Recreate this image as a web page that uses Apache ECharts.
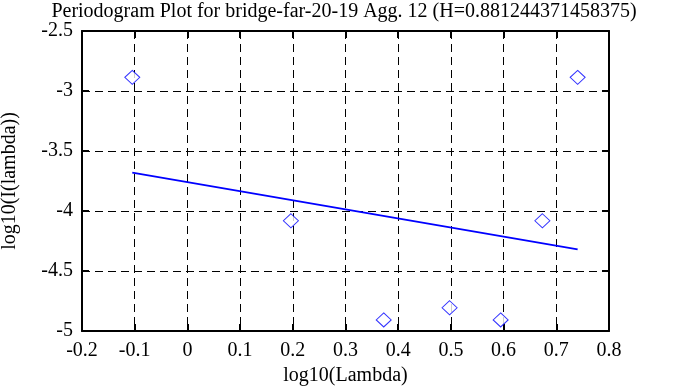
<!DOCTYPE html>
<html><head><meta charset="utf-8">
<script src="https://cdn.jsdelivr.net/npm/echarts@6/dist/echarts.min.js"></script>
<style>html,body{margin:0;padding:0;background:#fff}#c{width:688px;height:387px}</style>
</head><body><div id="c"></div>
<script>
const titleText = 'Periodogram Plot for bridge-far-20-19 Agg. 12 (H=0.881244371458375)';
const xName = 'log10(Lambda)';
const yName = 'log10(I(lambda))';
const logLambda = [-0.1046, 0.1964, 0.3725, 0.4975, 0.5944, 0.6736, 0.7405];
const logI = [-2.886, -4.081, -4.908, -4.806, -4.908, -4.081, -2.886];
const fitX = [-0.1046, 0.7405];
const fitY = [-3.681, -4.319];

const font = 'Liberation Serif, Times New Roman, serif';
const chart = echarts.init(document.getElementById('c'));
const axisCommon = {
  axisLine: {show: true, onZero: false, lineStyle: {color: '#000', width: 2}},
  axisTick: {show: true, inside: true, length: 7, lineStyle: {color: '#000', width: 2}},
};
chart.setOption({
  animation: false,
  title: {text: titleText, left: 'center', top: -3,
    textStyle: {fontFamily: font, fontWeight: 'normal', fontSize: 20, color: '#000'}},
  grid: {left: 82, right: 79, top: 31, bottom: 56, containLabel: false, outerBoundsMode: 'none'},
  xAxis: [
    Object.assign({type: 'value', min: -0.2, max: 0.8, interval: 0.1, position: 'bottom',
      name: xName, nameLocation: 'middle', nameGap: 33,
      nameTextStyle: {fontFamily: font, fontSize: 20, color: '#000'},
      axisLabel: {fontFamily: font, fontSize: 20, color: '#000', margin: 10},
      splitLine: {show: true, lineStyle: {color: '#000', type: [8, 5], width: 1}}}, axisCommon),
    Object.assign({type: 'value', min: -0.2, max: 0.8, interval: 0.1, position: 'top',
      axisLabel: {show: false}, splitLine: {show: false}}, axisCommon)
  ],
  yAxis: [
    Object.assign({type: 'value', min: -5, max: -2.5, interval: 0.5, position: 'left',
      name: yName, nameLocation: 'middle', nameGap: 62, nameRotate: 90,
      nameTextStyle: {fontFamily: font, fontSize: 20, color: '#000'},
      axisLabel: {fontFamily: font, fontSize: 20, color: '#000', margin: 9, padding: [6, 0, 0, 0]},
      splitLine: {show: true, lineStyle: {color: '#000', type: [8, 5], width: 1}}}, axisCommon),
    Object.assign({type: 'value', min: -5, max: -2.5, interval: 0.5, position: 'right',
      axisLabel: {show: false}, splitLine: {show: false}}, axisCommon)
  ],
  series: [
    {type: 'scatter', data: logLambda.map((x, i) => [x, logI[i]]),
      symbol: 'diamond', symbolSize: [15, 14],
      itemStyle: {color: '#fff', borderColor: '#0000ff', borderWidth: 1}},
    {type: 'line', data: fitX.map((x, i) => [x, fitY[i]]), showSymbol: false,
      lineStyle: {color: '#0000ff', width: 1.8}}
  ]
});
</script></body></html>
